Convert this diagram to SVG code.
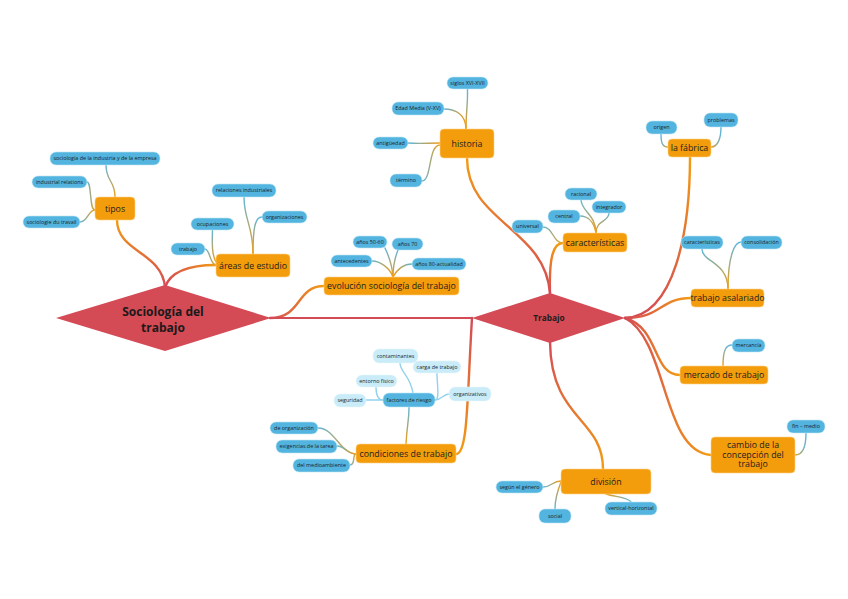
<svg xmlns="http://www.w3.org/2000/svg" width="848" height="599" viewBox="0 0 848 599">
<defs>
<linearGradient id="mUp" x1="0" y1="1" x2="0" y2="0"><stop offset="0" stop-color="#d44a55"/><stop offset="1" stop-color="#f39c12"/></linearGradient>
<linearGradient id="mRight" x1="0" y1="0" x2="1" y2="0"><stop offset="0" stop-color="#d44a55"/><stop offset="1" stop-color="#f39c12"/></linearGradient>
<linearGradient id="mDown" x1="0" y1="0" x2="0" y2="1"><stop offset="0" stop-color="#d44a55"/><stop offset="1" stop-color="#f39c12"/></linearGradient>
<linearGradient id="cUp" x1="0" y1="1" x2="0" y2="0"><stop offset="0" stop-color="#f39c12"/><stop offset="1" stop-color="#5cb6dc"/></linearGradient>
<linearGradient id="cDown" x1="0" y1="0" x2="0" y2="1"><stop offset="0" stop-color="#f39c12"/><stop offset="1" stop-color="#5cb6dc"/></linearGradient>
<linearGradient id="cLeft" x1="1" y1="0" x2="0" y2="0"><stop offset="0" stop-color="#f39c12"/><stop offset="1" stop-color="#5cb6dc"/></linearGradient>
<linearGradient id="cRight" x1="0" y1="0" x2="1" y2="0"><stop offset="0" stop-color="#f39c12"/><stop offset="1" stop-color="#5cb6dc"/></linearGradient>
</defs>
<style>
text{font-family:"Open Sans","Noto Sans","Liberation Sans",sans-serif;text-anchor:middle;fill:#1e1e1e}
.main{fill:#d44a55}
.mt{font-weight:bold;font-size:12px;fill:#1a1a1a}
.tt{font-weight:bold;font-size:8.3px}
.o{fill:#f39c0c;stroke:#fbd38a;stroke-width:0.6}
.ot{font-size:8.8px}
.b{fill:#52b4df;stroke:#bfe6f5;stroke-width:0.6}
.lb{fill:#c9ecf8;stroke:#e6f6fc;stroke-width:0.6}
.bt{font-size:5.4px}
.mc{fill:none;stroke-width:2.4;stroke-linecap:round}
.cc{fill:none;stroke-width:1.4;stroke-linecap:round}
.fc{fill:none;stroke-width:1.4;stroke:#92d2ec;stroke-linecap:round}
</style>
<rect width="848" height="599" fill="#ffffff"/>
<g id="connectors">
<!-- main branches -->
<path class="mc" stroke="url(#mUp)" d="M165,287 C162,252 117,252 117,220"/>
<path class="mc" stroke="url(#mRight)" d="M165,287 C172,268 196,265 216,265"/>
<path class="mc" stroke="url(#mRight)" d="M270,318 C302,318 296,286 324,286"/>
<path fill="none" stroke="#d44a55" stroke-width="2" d="M270,318 L472,318"/>
<path class="mc" stroke="url(#mUp)" d="M550,293 C545,228 467,222 467,158"/>
<path class="mc" stroke="url(#mUp)" d="M550,293 C549,258 553,243 563,243"/>
<path class="mc" stroke="url(#mUp)" d="M625,318 C675,316 690,230 690,157"/>
<path class="mc" stroke="url(#mRight)" d="M625,318 C662,318 660,298 691,298"/>
<path class="mc" stroke="url(#mRight)" d="M625,318 C660,328 652,375 680,375"/>
<path class="mc" stroke="url(#mRight)" d="M625,318 C668,340 662,452 711,455"/>
<path class="mc" stroke="url(#mDown)" d="M550,342 C551,420 603,418 603,469"/>
<path class="mc" stroke="url(#mDown)" d="M472,318 C467,400 468,454 456,454"/>
<!-- tipos -->
<path class="cc" stroke="url(#cUp)" d="M115,197 C115,180 106,182 106,165"/>
<path class="cc" stroke="url(#cLeft)" d="M95,210 C89,210 92,182 87,182"/>
<path class="cc" stroke="url(#cLeft)" d="M95,210 C88,210 88,222 80,222"/>
<!-- areas -->
<path class="cc" stroke="url(#cUp)" d="M253,254 C253,225 244,220 244,197"/>
<path class="cc" stroke="url(#cUp)" d="M253,254 C253,228 255,217 262,217"/>
<path class="cc" stroke="url(#cUp)" d="M216,262 C212,255 212,245 212.5,230"/>
<path class="cc" stroke="url(#cLeft)" d="M216,265 C210,265 210,249 205,249"/>
<!-- evolucion -->
<path class="cc" stroke="url(#cLeft)" d="M393,277 C390,268 380,261 372,261"/>
<path class="cc" stroke="url(#cUp)" d="M393,277 C392,262 388,255 385,248"/>
<path class="cc" stroke="url(#cUp)" d="M393,277 C393,262 396,255 398,250"/>
<path class="cc" stroke="url(#cRight)" d="M393,277 C398,268 404,264 412,264"/>
<!-- historia -->
<path class="cc" stroke="url(#cUp)" d="M466,129 C466,110 468,105 467.5,89"/>
<path class="cc" stroke="url(#cLeft)" d="M466,129 C466,115 456,109 444,109"/>
<path class="cc" stroke="url(#cLeft)" d="M440,143 C428,143 420,144 408,143"/>
<path class="cc" stroke="url(#cLeft)" d="M440,145 C428,145 432,181 422,181"/>
<!-- caracteristicas -->
<path class="cc" stroke="url(#cUp)" d="M596,233 C596,215 582,212 581,200"/>
<path class="cc" stroke="url(#cUp)" d="M596,233 C596,220 609,222 609,213"/>
<path class="cc" stroke="url(#cLeft)" d="M596,233 C594,222 588,216 580,216"/>
<path class="cc" stroke="url(#cLeft)" d="M563,243 C553,243 553,227 543,227"/>
<!-- fabrica -->
<path class="cc" stroke="url(#cLeft)" d="M668,147 C662,147 661,142 661,134"/>
<path class="cc" stroke="url(#cRight)" d="M711,147 C718,147 721,138 721,127"/>
<!-- asalariado -->
<path class="cc" stroke="url(#cUp)" d="M728,289 C728,262 702,262 702,249"/>
<path class="cc" stroke="url(#cUp)" d="M728,289 C728,255 735,242 741,242"/>
<!-- mercado -->
<path class="cc" stroke="url(#cUp)" d="M723,366 C723,350 726,345 732,345"/>
<!-- cambio -->
<path class="cc" stroke="url(#cRight)" d="M795,455 C803,455 806,445 806,433"/>
<!-- division -->
<path class="cc" stroke="url(#cLeft)" d="M561,481 C552,481 552,487 543,487"/>
<path class="cc" stroke="url(#cDown)" d="M561,482 C557,492 555,500 555,509"/>
<path class="cc" stroke="url(#cRight)" d="M606,494 C615,497 628,497 631,502"/>
<!-- condiciones -->
<path class="cc" stroke="url(#cUp)" d="M406,444 C407,425 409,420 409,407"/>
<path class="cc" stroke="url(#cLeft)" d="M356,454 C340,454 335,428 318,428"/>
<path class="cc" stroke="url(#cLeft)" d="M356,454 C348,454 345,446 337,446"/>
<path class="cc" stroke="url(#cLeft)" d="M356,454 C352,454 356,465 350,465"/>
<!-- factores -->
<path class="fc" d="M413,393 C410,375 400,372 400,363"/>
<path class="fc" d="M435,400 C440,400 437,385 437,373"/>
<path class="fc" d="M383,400 C378,400 376,395 376,387"/>
<path class="fc" d="M383,400 L366,400"/>
<path class="fc" d="M435,400 C442,400 443,394 449,394"/>
</g>

<g id="sociologia-del-trabajo">
<polygon class="main" points="56,318 165,285 271,318 165,351"/>
<text class="mt" x="163" y="316">Sociología del</text>
<text class="mt" x="163" y="332">trabajo</text>
</g>
<g id="trabajo">
<polygon class="main" points="472,318 550,293 625,318 550,343"/>
<text class="tt" x="549" y="321">Trabajo</text>
</g>

<g id="tipos"><rect class="o" x="95" y="197" width="40" height="23" rx="4"/><text class="ot" x="115" y="211.6">tipos</text></g>
<g id="areas-de-estudio"><rect class="o" x="216" y="254" width="74" height="23" rx="4"/><text class="ot" x="253" y="268.6">áreas de estudio</text></g>
<g id="evolucion"><rect class="o" x="324" y="277" width="135" height="18" rx="4"/><text class="ot" x="391.5" y="289.1">evolución sociología del trabajo</text></g>
<g id="historia"><rect class="o" x="440" y="129" width="54" height="29" rx="4"/><text class="ot" x="467" y="146.6">historia</text></g>
<g id="caracteristicas"><rect class="o" x="563" y="233" width="64" height="19" rx="4"/><text class="ot" x="595" y="245.6">características</text></g>
<g id="la-fabrica"><rect class="o" x="668" y="139" width="43" height="18" rx="4"/><text class="ot" x="689.5" y="151.1">la fábrica</text></g>
<g id="trabajo-asalariado"><rect class="o" x="691" y="289" width="73" height="18" rx="4"/><text class="ot" x="727.5" y="301.1">trabajo asalariado</text></g>
<g id="mercado-de-trabajo"><rect class="o" x="680" y="366" width="88" height="18" rx="4"/><text class="ot" x="724" y="378.1">mercado de trabajo</text></g>
<g id="cambio"><rect class="o" x="711" y="437" width="84" height="36" rx="4"/><text class="ot" x="753" y="448">cambio de la</text><text class="ot" x="753" y="457.5">concepción del</text><text class="ot" x="753" y="467">trabajo</text></g>
<g id="division"><rect class="o" x="561" y="469" width="90" height="25" rx="4"/><text class="ot" x="606" y="484.6">división</text></g>
<g id="condiciones"><rect class="o" x="356" y="444" width="100" height="19" rx="4"/><text class="ot" x="406" y="456.6">condiciones de trabajo</text></g>

<g id="sociologia-industria"><rect class="b" x="50" y="152" width="110" height="13" rx="6"/><text class="bt" x="105" y="160.4">sociología de la industria y de la empresa</text></g>
<g id="industrial-relations"><rect class="b" x="32" y="176" width="55" height="12" rx="6"/><text class="bt" x="59.5" y="183.9">industrial relations</text></g>
<g id="sociologie-du-travail"><rect class="b" x="23" y="216" width="57" height="12" rx="6"/><text class="bt" x="51.5" y="223.9">sociologie du travail</text></g>
<g id="relaciones-industriales"><rect class="b" x="212" y="184" width="64" height="13" rx="6"/><text class="bt" x="244" y="192.4">relaciones industriales</text></g>
<g id="organizaciones"><rect class="b" x="262" y="211" width="45" height="12" rx="6"/><text class="bt" x="284.5" y="218.9">organizaciones</text></g>
<g id="ocupaciones"><rect class="b" x="191" y="218" width="43" height="12" rx="6"/><text class="bt" x="212.5" y="225.9">ocupaciones</text></g>
<g id="trabajo-area"><rect class="b" x="171" y="243" width="34" height="12" rx="6"/><text class="bt" x="188" y="250.9">trabajo</text></g>
<g id="anos-50-60"><rect class="b" x="353" y="236" width="34" height="12" rx="6"/><text class="bt" x="370" y="243.9">años 50-60</text></g>
<g id="anos-70"><rect class="b" x="392" y="238" width="31" height="12" rx="6"/><text class="bt" x="407.5" y="245.9">años 70</text></g>
<g id="antecedentes"><rect class="b" x="331" y="255" width="41" height="12" rx="6"/><text class="bt" x="351.5" y="262.9">antecedentes</text></g>
<g id="anos-80"><rect class="b" x="412" y="258" width="54" height="12" rx="6"/><text class="bt" x="439" y="265.9">años 80-actualidad</text></g>
<g id="siglos"><rect class="b" x="447" y="77" width="41" height="12" rx="6"/><text class="bt" x="467.5" y="84.9">siglos XVI-XVII</text></g>
<g id="edad-media"><rect class="b" x="392" y="102" width="52" height="13" rx="6"/><text class="bt" x="418" y="110.4">Edad Media (V-XV)</text></g>
<g id="antiguedad"><rect class="b" x="373" y="137" width="35" height="12" rx="6"/><text class="bt" x="390.5" y="144.9">antigüedad</text></g>
<g id="termino"><rect class="b" x="390" y="174" width="32" height="13" rx="6"/><text class="bt" x="406" y="182.4">término</text></g>
<g id="racional"><rect class="b" x="565" y="188" width="32" height="12" rx="6"/><text class="bt" x="581" y="195.9">racional</text></g>
<g id="integrador"><rect class="b" x="592" y="201" width="34" height="12" rx="6"/><text class="bt" x="609" y="208.9">integrador</text></g>
<g id="central"><rect class="b" x="548" y="210" width="32" height="13" rx="6"/><text class="bt" x="564" y="218.4">central</text></g>
<g id="universal"><rect class="b" x="512" y="220" width="31" height="13" rx="6"/><text class="bt" x="527.5" y="228.4">universal</text></g>
<g id="origen"><rect class="b" x="646" y="121" width="31" height="13" rx="6"/><text class="bt" x="661.5" y="129.4">origen</text></g>
<g id="problemas"><rect class="b" x="704" y="113" width="34" height="14" rx="6"/><text class="bt" x="721" y="121.9">problemas</text></g>
<g id="caracteristicas-asalariado"><rect class="b" x="681" y="236" width="42" height="13" rx="6"/><text class="bt" x="702" y="244.4">características</text></g>
<g id="consolidacion"><rect class="b" x="741" y="236" width="41" height="13" rx="6"/><text class="bt" x="761.5" y="244.4">consolidación</text></g>
<g id="mercancia"><rect class="b" x="732" y="339" width="33" height="13" rx="6"/><text class="bt" x="748.5" y="347.4">mercancía</text></g>
<g id="fin-medio"><rect class="b" x="787" y="420" width="38" height="13" rx="6"/><text class="bt" x="806" y="428.4">fin – medio</text></g>
<g id="segun-genero"><rect class="b" x="496" y="481" width="47" height="12" rx="6"/><text class="bt" x="519.5" y="488.9">según el género</text></g>
<g id="social"><rect class="b" x="539" y="509" width="32" height="14" rx="6"/><text class="bt" x="555" y="517.9">social</text></g>
<g id="vertical-horizontal"><rect class="b" x="605" y="502" width="52" height="13" rx="6"/><text class="bt" x="631" y="510.4">vertical-horizontal</text></g>
<g id="de-organizacion"><rect class="b" x="270" y="422" width="48" height="12" rx="6"/><text class="bt" x="294" y="429.9">de organización</text></g>
<g id="exigencias"><rect class="b" x="276" y="440" width="61" height="13" rx="6"/><text class="bt" x="306.5" y="448.4">exigencias de la tarea</text></g>
<g id="medioambiente"><rect class="b" x="293" y="459" width="57" height="13" rx="6"/><text class="bt" x="321.5" y="467.4">del medioambiente</text></g>
<g id="factores-de-riesgo"><rect class="b" x="383" y="393" width="52" height="14" rx="6"/><text class="bt" x="409" y="401.9">factores de riesgo</text></g>
<g id="contaminantes"><rect class="lb" x="373" y="349" width="45" height="14" rx="6"/><text class="bt" x="395.5" y="357.9">contaminantes</text></g>
<g id="carga-de-trabajo"><rect class="lb" x="413" y="361" width="48" height="12" rx="6"/><text class="bt" x="437" y="368.9">carga de trabajo</text></g>
<g id="entorno-fisico"><rect class="lb" x="356" y="375" width="41" height="12" rx="6"/><text class="bt" x="376.5" y="382.9">entorno físico</text></g>
<g id="seguridad"><rect class="lb" x="334" y="394" width="32" height="13" rx="6"/><text class="bt" x="350" y="402.4">seguridad</text></g>
<g id="organizativos"><rect class="lb" x="449" y="387" width="42" height="14" rx="6"/><text class="bt" x="470" y="395.9">organizativos</text></g>
</svg>
